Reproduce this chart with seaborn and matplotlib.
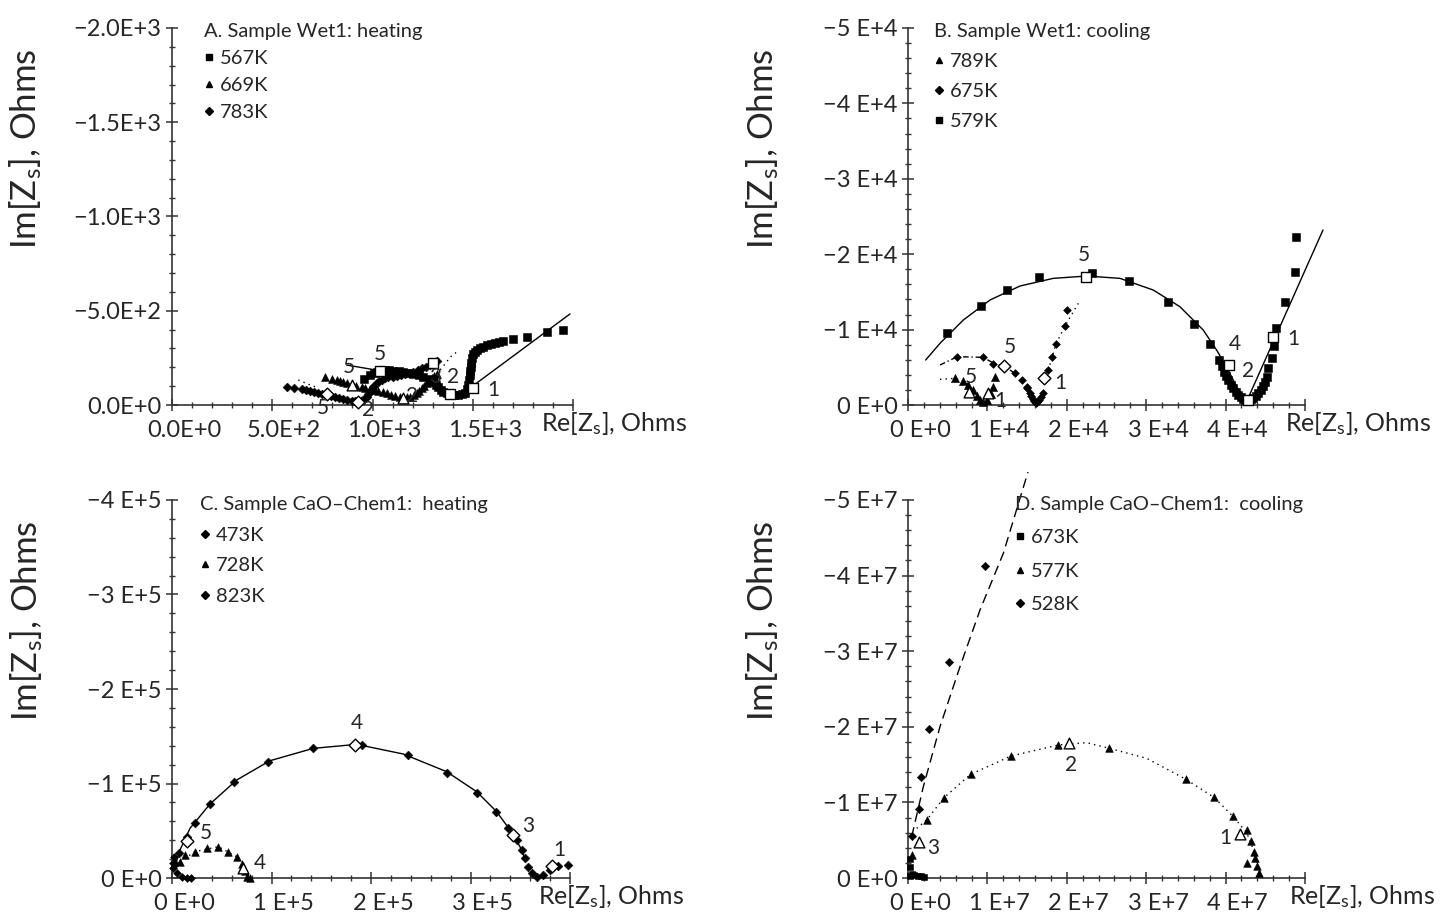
import matplotlib
matplotlib.use("Agg")
import numpy as np
import pandas as pd
import matplotlib.pyplot as plt
import matplotlib.transforms as mtransforms
from matplotlib.lines import Line2D
from matplotlib.ticker import MultipleLocator
import seaborn as sns

# ---------------- data (Re[Z] and -Im[Z], Ohms) ----------------
# Panel A - Wet1 heating
a567_re = [960, 988, 1005, 1021, 1040, 1062, 1083, 1104, 1130, 1154, 1180, 1204, 1230, 1254, 1280,
           1304, 1318, 1328, 1340, 1353, 1370, 1387, 1405, 1428, 1445, 1462, 1472, 1478, 1483, 1486,
           1488, 1490, 1493, 1495, 1502, 1511, 1522, 1536, 1552, 1570, 1590, 1611, 1630, 1653, 1700,
           1769, 1869, 1952]
a567_im = [140, 159, 170, 177, 183, 186, 185, 182, 180, 177, 171, 164, 158, 150, 138,
           124, 108, 94, 80, 71, 62, 57, 54, 53, 56, 65, 85, 106, 130, 159,
           180, 203, 225, 248, 268, 283, 293, 301, 310, 318, 325, 331, 336, 341, 350,
           359, 389, 398]
a669_re = [763, 800, 821, 840, 855, 875, 896, 920, 946, 965, 988, 1008, 1029, 1050, 1071, 1090,
           1112, 1135, 1154, 1170, 1187, 1205, 1220, 1233, 1245, 1258, 1270, 1283, 1295, 1308, 1320]
a669_im = [147, 138, 133, 128, 124, 115, 106, 100, 94, 88, 83, 80, 76, 70, 62, 55,
           48, 42, 39, 40, 44, 52, 62, 75, 88, 102, 115, 128, 141, 153, 164]
a783_re = [572, 610, 647, 668, 688, 710, 730, 750, 771, 792, 813, 834, 855, 875, 896, 912, 929,
           942, 954, 963, 971, 980, 988, 996, 1004, 1012, 1021, 1033, 1046, 1062, 1079, 1100,
           1121, 1140, 1162, 1183, 1204, 1225, 1245, 1266, 1287, 1303, 1320]
a783_im = [94, 88, 83, 80, 76, 70, 65, 61, 57, 50, 44, 39, 34, 28, 23, 20, 18,
           21, 27, 35, 44, 58, 71, 83, 94, 105, 115, 125, 133, 141, 147, 151,
           154, 159, 164, 170, 177, 186, 195, 203, 212, 222, 235]
a_fit_solid1_re = [871, 1037]
a_fit_solid1_im = [212, 182]
a_fit_solid2_re = [1495, 1985]
a_fit_solid2_im = [97, 483]
a_fit_dot1_re = [1320, 1360, 1387, 1428]
a_fit_dot1_im = [164, 215, 253, 288]
a_fit_dot2_re = [630, 680, 722]
a_fit_dot2_im = [133, 110, 94]
a_mark_re = [1037, 1303, 1387, 1503, 896, 1154, 771, 929]
a_mark_im = [182, 222, 57, 88, 106, 39, 57, 18]
a_mark_num = ["5", "3", "2", "1", "5", "2", "5", "2"]
a_mark_kind = ["s", "s", "s", "s", "^", "^", "D", "D"]

# Panel B - Wet1 cooling
b579_re = [4868, 9149, 12422, 16535, 23207, 27866, 32692, 36007, 38022, 39197, 39500, 39826, 40000,
           40330, 40650, 40960, 41250, 41589, 41900, 42218, 42500, 42848, 43150, 43477, 43800,
           44107, 44400, 44736, 44950, 45156, 45366, 45786, 46121, 46331, 47465, 48723, 48849]
b579_im = [9591, 13127, 15249, 17017, 17547, 16486, 13702, 10741, 8045, 5967, 5200, 4420, 3900,
           3315, 2700, 2210, 1750, 1326, 1000, 796, 700, 663, 750, 884, 1150,
           1547, 2000, 2519, 3100, 3757, 4862, 6188, 7823, 10166, 13702, 17680, 22321]
b675_re = [6211, 9484, 10743, 13471, 14311, 14941, 15000, 15360, 15500, 15696, 15900, 16115,
           16300, 16535, 16750, 16955, 17668, 18088, 18633, 19766, 19977]
b675_im = [6409, 6321, 5437, 4199, 3315, 2431, 2200, 1547, 1200, 751, 500, 309,
           400, 663, 1000, 1547, 4641, 6321, 8089, 10475, 12597]
b789_re = [5917, 6966, 7596, 8225, 8729, 9065, 9484, 9988, 10408, 10743, 10953]
b789_im = [3536, 3227, 2652, 1989, 1193, 663, 398, 663, 1459, 2431, 3757]
b_fit_solid1_re = [2224, 4029, 6966, 10324, 14101, 18297, 22495, 26691, 30887, 34245, 37182,
                   38862, 40121, 41380, 42639]
b_fit_solid1_im = [5967, 8177, 11271, 13923, 15779, 16796, 17105, 16796, 15249, 13039, 9945,
                   7293, 5083, 2431, 442]
b_fit_solid2_re = [42639, 52267]
b_fit_solid2_im = [442, 23210]
b_fit_dashdot_re = [4029, 6211, 9484, 10953, 12086, 13471]
b_fit_dashdot_im = [5304, 6409, 6321, 5437, 5171, 4199]
b_fit_dot1_re = [17668, 18633, 19766, 21445]
b_fit_dot1_im = [4641, 8089, 10475, 13481]
b_fit_dot2_re = [4029, 5917, 6966, 7596, 8225]
b_fit_dot2_im = [3404, 3536, 3227, 2652, 1989]
b_mark_re = [22368, 40456, 42848, 45996, 12086, 17122, 7722, 10114]
b_mark_im = [17017, 5304, 663, 8973, 5171, 3536, 1768, 1547]
b_mark_num = ["5", "4", "2", "1", "5", "1", "5", "1"]
b_mark_kind = ["s", "s", "s", "s", "D", "D", "^", "^"]

# Panel C - CaO-Chem1 heating
c473_re = [3000, 7370, 14740, 23115, 38190, 62645, 96815, 142040, 190617, 237512, 276707, 306193,
           325620, 338012, 346393, 351418, 354765, 358112, 361468, 366493, 373186, 379890,
           388262, 398312]
c473_im = [15000, 26100, 43730, 57840, 78292, 101917, 123077, 137189, 140714, 130134, 111442,
           90279, 70177, 52551, 40204, 29624, 20811, 11987, 4941, 1411, 3174, 8464, 12696, 13405]
c728_re = [8040, 13065, 23115, 34843, 46562, 56612, 64990, 70017, 73365, 75707, 78390]
c728_im = [17277, 24334, 27857, 31391, 33147, 27857, 22567, 14812, 7755, 1411, 0]
c823_re = [1200, 2200, 1337, 4693, 9718, 14743, 18763]
c823_im = [16000, 22000, 10231, 4941, 1411, 353, 0]
c_fit_solid_re = [2010, 8040, 18090, 38190, 64990, 98490, 142040, 185590, 232490, 276040, 306193,
                  326293, 339690, 349740, 354765]
c_fit_solid_im = [8464, 29624, 52551, 78292, 103684, 124135, 137189, 141423, 131192, 112497, 91337,
                  70177, 50784, 33147, 20811]
c_fit_dot_re = [8040, 23115, 46562, 64990, 73365, 78390]
c_fit_dot_im = [17277, 27857, 33147, 22567, 7755, 0]
c_mark_re = [15407, 183915, 342373, 381568, 71687]
c_mark_im = [39495, 140714, 45494, 13045, 10231]
c_mark_num = ["5", "4", "3", "1", "4"]
c_mark_kind = ["D", "D", "D", "D", "^"]

# Panel D - CaO-Chem1 cooling
d673_re = [2.0e5, 5.0e5, 8.0e5, 1.2e6, 1.6e6, 2.0e6, 3.0e5, 2.0e5]
d673_im = [3.0e5, 5.0e5, 4.0e5, 3.0e5, 2.0e5, 1.0e5, 1.5e6, 2.5e6]
d577_re = [5.0e5, 2.351e6, 4.534e6, 7.892e6, 1.2972e7, 1.8933e7, 2.5356e7, 3.5011e7, 3.8538e7,
           4.0889e7, 4.2652e7, 4.3156e7, 4.3575e7, 4.3701e7, 4.2652e7, 4.3911e7, 4.4246e7]
d577_im = [3.0e6, 7.672e6, 1.0626e7, 1.3713e7, 1.6138e7, 1.7593e7, 1.7152e7, 1.3052e7, 1.0671e7,
           8.201e6, 6.349e6, 4.938e6, 3.483e6, 2.602e6, 1.940e6, 1.587e6, 7.05e5]
d528_re = [4.6e5, 1.427e6, 1.595e6, 2.687e6, 5.205e6, 9.697e6]
d528_im = [5.5e6, 9.083e6, 1.3404e7, 1.9666e7, 2.8616e7, 4.1316e7]
d_fit_dash_re = [4.62e5, 1.931e6, 4.030e6, 6.549e6, 9.068e6, 1.2006e7, 1.511e7]
d_fit_dash_im = [5.467e6, 1.2081e7, 2.0018e7, 2.7955e7, 3.5451e7, 4.2946e7, 5.37e7]
d_fit_dot_re = [1.092e6, 2.351e6, 4.534e6, 7.892e6, 1.2972e7, 1.8933e7, 2.2502e7, 2.5356e7,
                3.0058e7, 3.5011e7, 3.8538e7, 4.0889e7, 4.2652e7, 4.3701e7, 4.4246e7]
d_fit_dot_im = [6.570e6, 7.672e6, 1.0626e7, 1.3713e7, 1.6138e7, 1.7593e7, 1.7902e7, 1.7152e7,
                1.5830e7, 1.3052e7, 1.0671e7, 8.201e6, 5.996e6, 3.263e6, 6.17e5]
d_mark_re = [2.0318e7, 4.1812e7, 1.427e6]
d_mark_im = [1.7814e7, 5.776e6, 4.806e6]
d_mark_num = ["2", "1", "3"]
d_mark_kind = ["^", "^", "^"]

# ticks
a_xticks = [0, 500, 1000, 1500, 2000]
a_xticklabels = ["0.0E+0", "5.0E+2", "1.0E+3", "1.5E+3", ""]
a_yticks = [0, -500, -1000, -1500, -2000]
a_yticklabels = ["0.0E+0", "\u22125.0E+2", "\u22121.0E+3", "\u22121.5E+3", "\u22122.0E+3"]
b_xticks = [0, 1e4, 2e4, 3e4, 4e4, 5e4]
b_xticklabels = ["0 E+0", "1 E+4", "2 E+4", "3 E+4", "4 E+4", ""]
b_yticks = [0, -1e4, -2e4, -3e4, -4e4, -5e4]
b_yticklabels = ["0 E+0", "\u22121 E+4", "\u22122 E+4", "\u22123 E+4", "\u22124 E+4", "\u22125 E+4"]
c_xticks = [0, 1e5, 2e5, 3e5, 4e5]
c_xticklabels = ["0 E+0", "1 E+5", "2 E+5", "3 E+5", ""]
c_yticks = [0, -1e5, -2e5, -3e5, -4e5]
c_yticklabels = ["0 E+0", "\u22121 E+5", "\u22122 E+5", "\u22123 E+5", "\u22124 E+5"]
d_xticks = [0, 1e7, 2e7, 3e7, 4e7, 5e7]
d_xticklabels = ["0 E+0", "1 E+7", "2 E+7", "3 E+7", "4 E+7", ""]
d_yticks = [0, -1e7, -2e7, -3e7, -4e7, -5e7]
d_yticklabels = ["0 E+0", "\u22121 E+7", "\u22122 E+7", "\u22123 E+7", "\u22124 E+7", "\u22125 E+7"]

# legends
a_title = "A. Sample Wet1: heating"
a_temps = ["567K", "669K", "783K"]
b_title = "B. Sample Wet1: cooling"
b_temps = ["789K", "675K", "579K"]
c_title = "C. Sample CaO\u2013Chem1:  heating"
c_temps = ["473K", "728K", "823K"]
d_title = "D. Sample CaO\u2013Chem1:  cooling"
d_temps = ["673K", "577K", "528K"]

# ---------------- style ----------------
sns.set_style("ticks")
plt.rcParams['font.family'] = ['Lato', 'DejaVu Sans']
plt.rcParams['mathtext.fontset'] = 'custom'
plt.rcParams['mathtext.rm'] = 'Lato'
plt.rcParams['mathtext.it'] = 'Lato:italic'

AX_COL = "#333333"
fig = plt.figure(figsize=(14.4, 9.21), dpi=100)
ax_a = fig.add_axes([172 / 1440, 516 / 921, 401 / 1440, 377 / 921])
ax_b = fig.add_axes([908 / 1440, 516 / 921, 397 / 1440, 377 / 921])
ax_c = fig.add_axes([172 / 1440, 43 / 921, 398 / 1440, 378 / 921])
ax_d = fig.add_axes([908 / 1440, 43 / 921, 397 / 1440, 378 / 921])

SIZES = {"s": 26, "^": 34, "D": 16, "o": 16}


def points(ax, re, negim, marker, size=None):
    df = pd.DataFrame({"re": re, "im": [-v for v in negim]})
    sns.scatterplot(data=df, x="re", y="im", ax=ax, marker=marker, s=size or SIZES[marker],
                    color="black", edgecolor="black", linewidth=0.4, clip_on=False, zorder=3)


def fit(ax, re, negim, ls):
    sns.lineplot(x=re, y=[-v for v in negim], ax=ax, sort=False, estimator=None,
                 color="black", lw=1.0, linestyle=ls, clip_on=False, zorder=2)


def marks(ax, re, negim, nums, kinds, offsets):
    for x, y, n, k, (dx, dy) in zip(re, negim, nums, kinds, offsets):
        sns.scatterplot(x=[x], y=[-y], ax=ax, marker=k, s=60 if k != "D" else 42,
                        color="white", edgecolor="black", linewidth=1.0, clip_on=False, zorder=4)
        ax.annotate(n, (x, -y), xytext=(dx, dy), textcoords="offset pixels",
                    ha="center", va="center", fontsize=15, zorder=5)


def setup(ax, xt, xl, yt, yl, xminor, yminor, xlab_x):
    ax.set_xlim(xt[0], xt[-1])
    ax.set_ylim(0, yt[-1])
    ax.set_xticks(xt)
    ax.set_xticklabels(xl)
    ax.set_yticks(yt)
    ax.set_yticklabels(yl)
    ax.xaxis.set_minor_locator(MultipleLocator(xminor))
    ax.yaxis.set_minor_locator(MultipleLocator(yminor))
    ax.tick_params(which="major", direction="inout", length=9, width=1.1, color=AX_COL,
                   labelsize=17, pad=3)
    ax.tick_params(axis="x", which="major", pad=6)
    ax.tick_params(which="minor", direction="inout", length=5, width=1.0, color=AX_COL)
    sns.despine(ax=ax)
    for side in ("left", "bottom"):
        ax.spines[side].set_linewidth(1.2)
        ax.spines[side].set_color(AX_COL)
    shift = mtransforms.ScaledTranslation(0.12, 0, fig.dpi_scale_trans)
    for lab in ax.get_xticklabels():
        lab.set_transform(lab.get_transform() + shift)
    ax.set_xlabel("Re[Z$_\\mathrm{s}$], Ohms", fontsize=18)
    ax.xaxis.label.set_ha("left")
    ax.xaxis.label.set_va("center")
    ax.xaxis.set_label_coords(xlab_x, -0.048)
    ax.set_ylabel("Im[Z$_\\mathrm{s}$], Ohms", fontsize=25)
    ax.yaxis.set_label_coords(-0.32, 0.68)


def legend(ax, title, temps, kinds, x, y, spacing):
    handles = [Line2D([], [], marker=k, color="black", linestyle="none",
                      markersize=5 if k != "D" else 4) for k in kinds]
    ax.legend(handles, temps, title=title, loc="upper left", bbox_to_anchor=(x, y),
              frameon=False, fontsize=14.5, title_fontsize=14.5, handlelength=0.5,
              handletextpad=0.3, labelspacing=spacing, borderpad=0, borderaxespad=0,
              alignment="left")


# ---------------- panel A ----------------
points(ax_a, a783_re, a783_im, "D", 20)
points(ax_a, a669_re, a669_im, "^", 32)
points(ax_a, a567_re, a567_im, "s", 26)
fit(ax_a, a_fit_solid1_re, a_fit_solid1_im, "-")
fit(ax_a, a_fit_solid2_re, a_fit_solid2_im, "-")
fit(ax_a, a_fit_dot1_re, a_fit_dot1_im, (0, (1, 3)))
fit(ax_a, a_fit_dot2_re, a_fit_dot2_im, (0, (1, 3)))
marks(ax_a, a_mark_re, a_mark_im, a_mark_num, a_mark_kind,
      [(0, 17), (2, -14), (3, 17), (20, -2), (-3, 18), (9, 2), (-4, -14), (10, -8)])
setup(ax_a, a_xticks, a_xticklabels, a_yticks, a_yticklabels, 100, 100, 0.92)
legend(ax_a, a_title, a_temps, ["s", "^", "D"], 0.08, 1.012, 0.48)

# ---------------- panel B ----------------
points(ax_b, b789_re, b789_im, "^")
points(ax_b, b675_re, b675_im, "D")
points(ax_b, b579_re, b579_im, "s", 32)
fit(ax_b, b_fit_solid1_re, b_fit_solid1_im, "-")
fit(ax_b, b_fit_solid2_re, b_fit_solid2_im, "-")
fit(ax_b, b_fit_dashdot_re, b_fit_dashdot_im, (0, (4, 2, 1, 2)))
fit(ax_b, b_fit_dot1_re, b_fit_dot1_im, (0, (1, 3)))
fit(ax_b, b_fit_dot2_re, b_fit_dot2_im, (0, (1, 3)))
marks(ax_b, b_mark_re, b_mark_im, b_mark_num, b_mark_kind,
      [(-2, 22), (6, 21), (0, 29), (20, -2), (6, 19), (16, -5), (2, 15), (12, -8)])
setup(ax_b, b_xticks, b_xticklabels, b_yticks, b_yticklabels, 2000, 2000, 0.95)
legend(ax_b, b_title, b_temps, ["^", "D", "s"], 0.065, 1.012, 0.64)

# ---------------- panel C ----------------
points(ax_c, c823_re, c823_im, "D")
points(ax_c, c728_re, c728_im, "^", 30)
points(ax_c, c473_re, c473_im, "D", 20)
fit(ax_c, c_fit_solid_re, c_fit_solid_im, "-")
fit(ax_c, c_fit_dot_re, c_fit_dot_im, (0, (1, 3)))
marks(ax_c, c_mark_re, c_mark_im, c_mark_num, c_mark_kind,
      [(19, 8), (2, 22), (16, 9), (8, 16), (17, 5)])
setup(ax_c, c_xticks, c_xticklabels, c_yticks, c_yticklabels, 20000, 20000, 0.92)
legend(ax_c, c_title, c_temps, ["D", "^", "D"], 0.07, 1.01, 0.67)

# ---------------- panel D ----------------
points(ax_d, d673_re, d673_im, "s", 14)
points(ax_d, d577_re, d577_im, "^", 30)
points(ax_d, d528_re, d528_im, "D", 18)
fit(ax_d, d_fit_dash_re, d_fit_dash_im, (0, (7, 4)))
fit(ax_d, d_fit_dot_re, d_fit_dot_im, (0, (1, 3)))
marks(ax_d, d_mark_re, d_mark_im, d_mark_num, d_mark_kind,
      [(2, -22), (-15, -4), (14, -6)])
setup(ax_d, d_xticks, d_xticklabels, d_yticks, d_yticklabels, 2e6, 2e6, 0.96)
legend(ax_d, d_title, d_temps, ["s", "^", "D"], 0.27, 1.01, 0.8)

fig.savefig("out.png", dpi=100)
